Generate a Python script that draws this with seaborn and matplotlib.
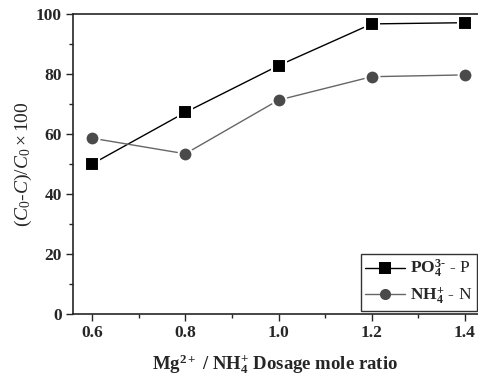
import matplotlib
matplotlib.use("Agg")
import matplotlib.pyplot as plt
import seaborn as sns
import pandas as pd
from matplotlib.ticker import MultipleLocator
from matplotlib.lines import Line2D

ratio = [0.6, 0.8, 1.0, 1.2, 1.4]
po4_p = [50.0, 67.2, 82.8, 96.7, 97.1]
nh4_n = [58.6, 53.4, 71.3, 79.1, 79.7]
series_names = [r"$\mathbf{PO_4^{3\text{-}}}$ - P", r"$\mathbf{NH_4^{+}}$ - N"]
xtick_labels = ["0.6", "0.8", "1.0", "1.2", "1.4"]
ytick_labels = ["0", "20", "40", "60", "80", "100"]

sns.set_style("ticks")
plt.rcParams["font.family"] = ["Liberation Serif", "DejaVu Serif"]
plt.rcParams["mathtext.fontset"] = "custom"
plt.rcParams["mathtext.rm"] = "Liberation Serif"
plt.rcParams["mathtext.it"] = "Liberation Serif:italic"
plt.rcParams["mathtext.bf"] = "Liberation Serif:bold"

df = pd.DataFrame({
    "ratio": ratio * 2,
    "value": po4_p + nh4_n,
    "series": [series_names[0]] * len(ratio) + [series_names[1]] * len(ratio),
})

fig = plt.figure(figsize=(4.78, 3.77), dpi=100)
ax = fig.add_axes([73/478, 1 - 314/377, 405/478, 300/377])

sns.lineplot(data=df, x="ratio", y="value", hue="series", style="series",
             palette={series_names[0]: "black", series_names[1]: "#4a4a4a"},
             markers={series_names[0]: "s", series_names[1]: "o"},
             dashes=False, markersize=10, linewidth=1,
             markeredgewidth=1.5, markeredgecolor="white",
             ax=ax, legend=False)
ax.lines[1].set_color("#666666")
ax.lines[1].set_markerfacecolor("#4a4a4a")

ax.set_xlim(0.5591, 1.428)
ax.set_ylim(0, 100)
ax.set_xticks([0.6, 0.8, 1.0, 1.2, 1.4])
ax.set_xticklabels(xtick_labels, fontweight="bold")
ax.set_yticks([0, 20, 40, 60, 80, 100])
ax.set_yticklabels(ytick_labels, fontweight="bold")
ax.xaxis.set_minor_locator(MultipleLocator(0.1))
ax.yaxis.set_minor_locator(MultipleLocator(10))
ax.tick_params(which="major", direction="out", length=5, width=1, labelsize=12.5, pad=3)
ax.tick_params(which="minor", direction="out", length=3, width=1)
for s in ["left", "bottom", "top"]:
    ax.spines[s].set_visible(True)
    ax.spines[s].set_linewidth(1.2)
ax.spines["right"].set_visible(False)

ax.set_xlabel(r"$\mathbf{Mg^{2+}}$ / $\mathbf{NH_4^{+}}$ Dosage mole ratio",
              fontweight="bold", fontsize=13.5, labelpad=8)
ax.set_ylabel(r"$(C_0$-$C)/C_0\times100$", fontsize=14, labelpad=1)

handles = [
    Line2D([], [], color="black", marker="s", markersize=8, markeredgewidth=0, linewidth=1),
    Line2D([], [], color="#666666", marker="o", markerfacecolor="#4a4a4a",
           markersize=8, markeredgewidth=0, linewidth=1),
]
leg = ax.legend(handles, series_names, loc="lower right", bbox_to_anchor=(1.006, 0.0),
                frameon=True, fancybox=False, edgecolor="black", fontsize=12.5,
                handlelength=2.3, handletextpad=0.3, borderpad=0.25, labelspacing=0.3,
                borderaxespad=0.2)
leg.get_frame().set_linewidth(1)

fig.savefig("out.png", dpi=100)
